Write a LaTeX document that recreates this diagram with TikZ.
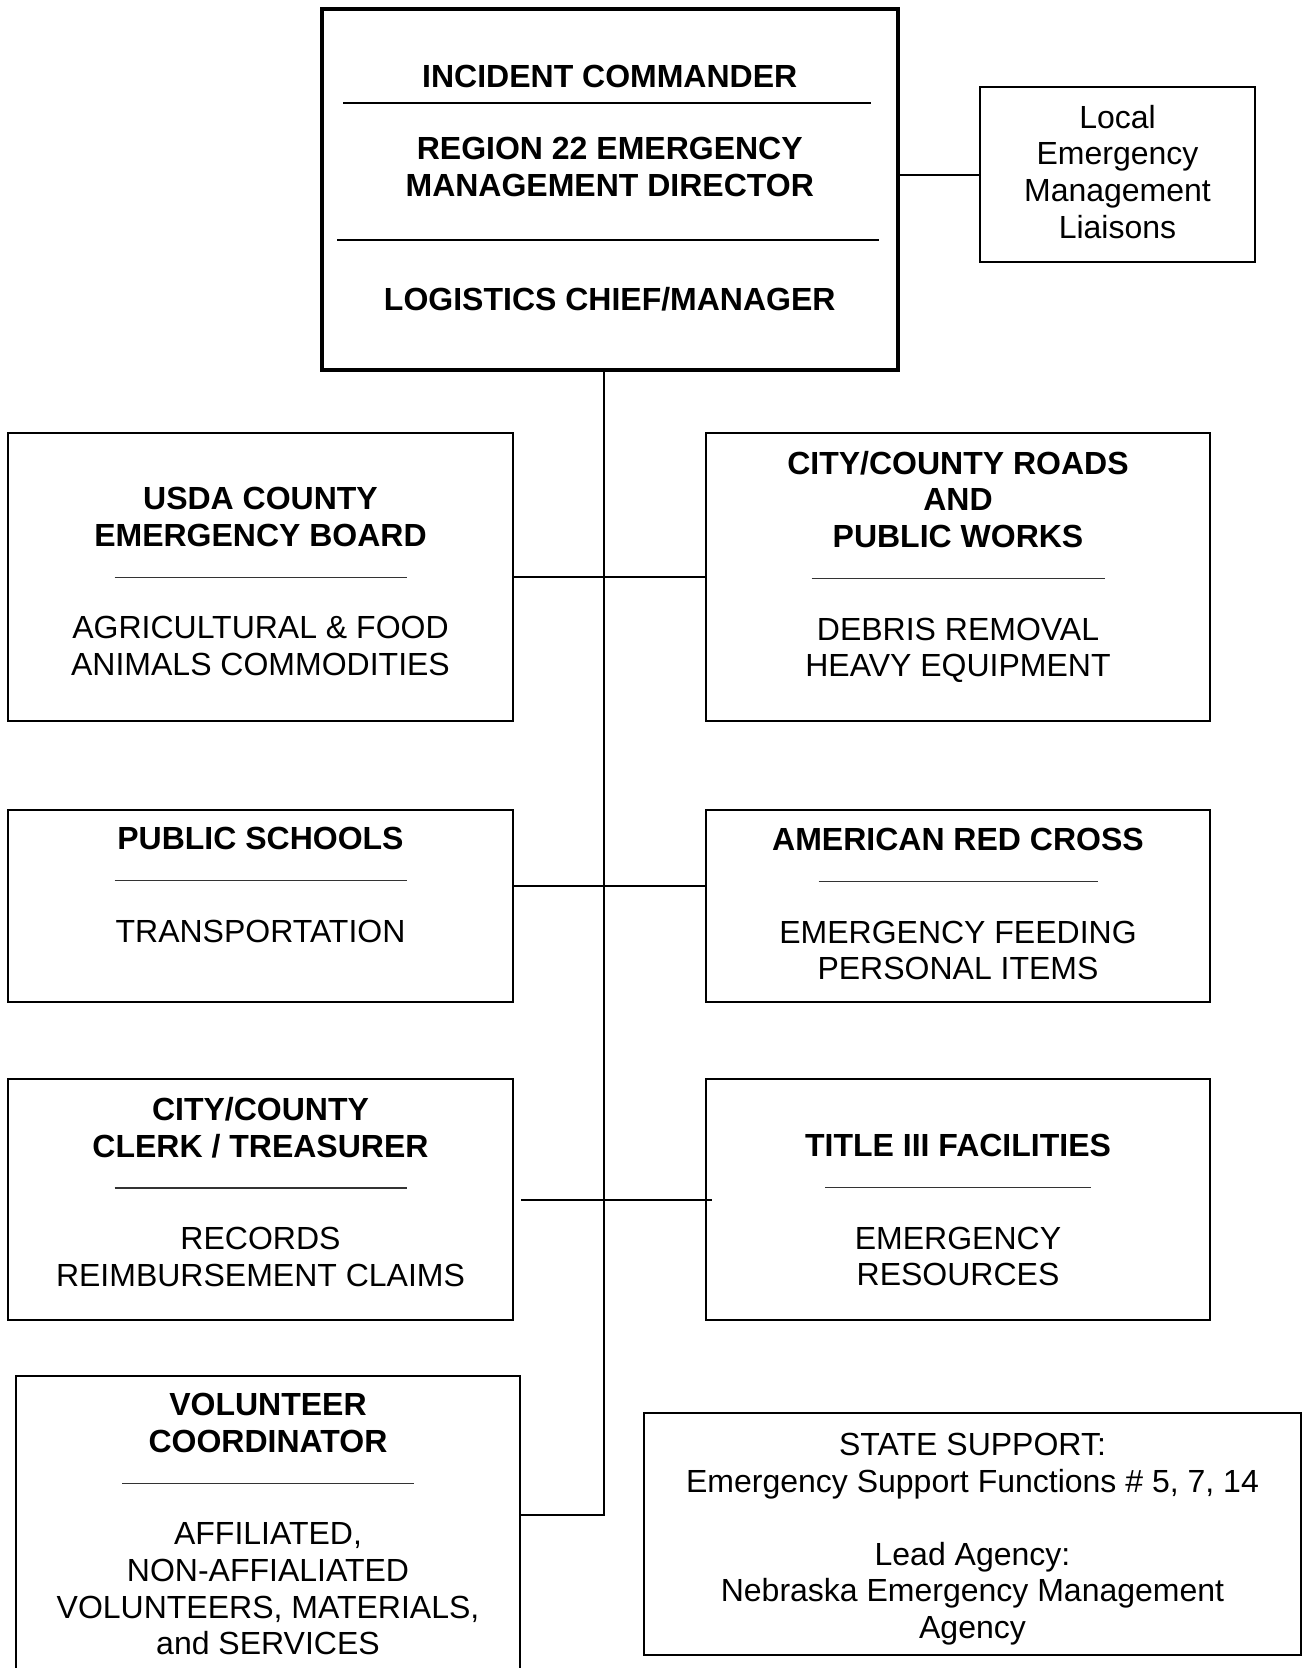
\documentclass[tikz,border=0pt]{standalone}
\usepackage{fontspec}
\setmainfont{Liberation Sans}
\usetikzlibrary{positioning}
\newcommand{\ChartFont}{\fontsize{32}{36.6}\selectfont}
\newcommand{\SepLine}[1]{{\color{black!80}\rule[5pt]{#1}{1.2pt}}}
\tikzset{
  OrgBox/.style  = {draw, line width = 2pt, inner sep = 0pt, fill = white},
  CmdBox/.style  = {OrgBox, line width = 3.5pt},
  BoxText/.style = {align = center, inner sep = 0pt, font = \ChartFont},
  Link/.style    = {line width = 2pt},
  Divider/.style = {line width = 2pt}
}
\begin{document}
\begin{tikzpicture}[x=1pt, y=-1pt]

\useasboundingbox (0,0) rectangle (1309,1668);

%% ------------------------------------------------------------ [ Command ]
\node (ic) [CmdBox, anchor = north west,
            minimum width = 576pt, minimum height = 361pt] at (320,7) {};
\node (liaison) [OrgBox, anchor = north west,
                 minimum width = 275pt, minimum height = 175pt] at (979,86) {};

%% ------------------------------------------------------------ [ Support ]
\node (usda) [OrgBox, anchor = north west,
              minimum width = 505pt, minimum height = 288pt] at (7,432) {};
\node (roads) [OrgBox, minimum width = 504pt, minimum height = 288pt,
               right = 191pt of usda] {};
\node (schools) [OrgBox, minimum width = 505pt, minimum height = 192pt,
                 below = 87pt of usda] {};
\node (redcross) [OrgBox, minimum width = 504pt, minimum height = 192pt,
                  below = 87pt of roads] {};
\node (clerk) [OrgBox, minimum width = 505pt, minimum height = 241pt,
               below = 75pt of schools] {};
\node (title) [OrgBox, minimum width = 504pt, minimum height = 241pt,
               below = 75pt of redcross] {};
\node (vol) [OrgBox, anchor = north west,
             minimum width = 504pt, minimum height = 330pt] at (15,1375) {};
\node (state) [OrgBox, anchor = north west,
               minimum width = 657pt, minimum height = 242pt] at (643,1412) {};

%% ------------------------------------------------------------ [ Links ]
\coordinate (trunkend) at (604,1515);
\draw [Link] (ic.east |- liaison.west) -- (liaison.west);
\draw [Link] (ic.south -| trunkend) -- (trunkend) -- (vol.east |- trunkend);
\draw [Link] (usda.east) -- (roads.west);
\draw [Link] ([yshift=20pt]schools.east) -- ([yshift=20pt]redcross.west);
\draw [Link] ([xshift=7pt]clerk.east) -- ([xshift=7pt]title.west);

%% ------------------------------------------------------------ [ Texts ]
\draw [Divider] (343,103) -- (871,103);
\draw [Divider] (337,240) -- (879,240);
\node [BoxText, below = 58pt of ic.north] {\textbf{INCIDENT COMMANDER}};
\node [BoxText, below = 130pt of ic.north]
      {\textbf{REGION 22 EMERGENCY}\\\textbf{MANAGEMENT DIRECTOR}};
\node [BoxText, below = 280pt of ic.north] {\textbf{LOGISTICS CHIEF/MANAGER}};

\node [BoxText, below = 19pt of liaison.north]
      {Local\\Emergency\\Management\\Liaisons};

\node [BoxText, below = 55pt of usda.north]
      {\textbf{USDA COUNTY}\\\textbf{EMERGENCY BOARD}\\\SepLine{292pt}\\[19.5pt]
       AGRICULTURAL \& FOOD\\ANIMALS COMMODITIES};
\node [BoxText, below = 19pt of roads.north]
      {\textbf{CITY/COUNTY ROADS}\\\textbf{AND}\\\textbf{PUBLIC WORKS}\\\SepLine{293pt}\\[19.5pt]
       DEBRIS REMOVAL\\HEAVY EQUIPMENT};
\node [BoxText, below = 18pt of schools.north]
      {\textbf{PUBLIC SCHOOLS}\\\SepLine{292pt}\\[19.5pt]TRANSPORTATION};
\node [BoxText, below = 19pt of redcross.north]
      {\textbf{AMERICAN RED CROSS}\\\SepLine{279pt}\\[19.5pt]
       EMERGENCY FEEDING\\PERSONAL ITEMS};
\node [BoxText, below = 19pt of clerk.north]
      {\textbf{CITY/COUNTY}\\\textbf{CLERK / TREASURER}\\\SepLine{292pt}\\[19.5pt]
       RECORDS\\REIMBURSEMENT CLAIMS};
\node [BoxText, below = 56pt of title.north]
      {\textbf{TITLE III FACILITIES}\\\SepLine{266pt}\\[19.5pt]
       EMERGENCY\\RESOURCES};
\node [BoxText, below = 18pt of vol.north]
      {\textbf{VOLUNTEER}\\\textbf{COORDINATOR}\\\SepLine{292pt}\\[19.5pt]
       AFFILIATED,\\NON-AFFIALIATED\\VOLUNTEERS, MATERIALS,\\and SERVICES};
\node [BoxText, below = 21pt of state.north]
      {STATE SUPPORT:\\Emergency Support Functions \# 5, 7, 14\\[36.6pt]
       Lead Agency:\\Nebraska Emergency Management\\Agency};

\end{tikzpicture}
\end{document}
